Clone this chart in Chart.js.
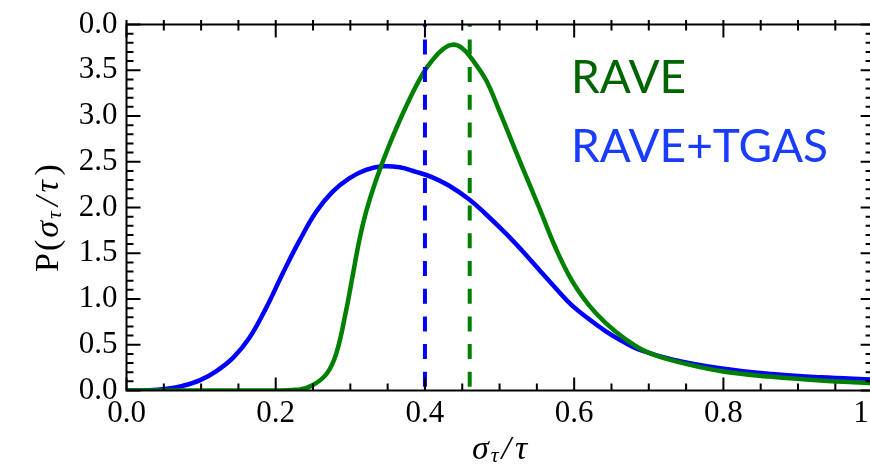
<!DOCTYPE html>
<html>
<head>
<meta charset="utf-8">
<script src="https://cdn.jsdelivr.net/npm/chart.js@4.4.0/dist/chart.umd.min.js"></script>
<style>
  html, body { margin: 0; padding: 0; background: #fff; overflow: hidden; }
  #wrap { position: relative; width: 900px; height: 465px; }
</style>
</head>
<body>
<div id="wrap"><canvas id="chart" width="900" height="465"></canvas></div>
<script>
// RAVE+TGAS distribution (blue)
const tgasX = [0.00, 0.03, 0.054, 0.075, 0.098, 0.12, 0.143, 0.165, 0.187, 0.21, 0.232, 0.254, 0.276,
  0.299, 0.321, 0.343, 0.366, 0.388, 0.41, 0.432, 0.459, 0.48, 0.508, 0.53, 0.553, 0.575, 0.597,
  0.62, 0.642, 0.664, 0.686, 0.731, 0.798, 0.865, 0.93, 1.00];
const tgasY = [0.00, 0.003, 0.02, 0.05, 0.11, 0.21, 0.36, 0.58, 0.90, 1.29, 1.64, 1.95, 2.17,
  2.32, 2.41, 2.45, 2.44, 2.39, 2.33, 2.24, 2.09, 1.94, 1.72, 1.53, 1.32, 1.12, 0.93,
  0.78, 0.65, 0.54, 0.45, 0.34, 0.24, 0.18, 0.145, 0.12];

// RAVE distribution (green)
const raveX = [0.00, 0.20, 0.232, 0.25, 0.268, 0.281, 0.294, 0.303, 0.312, 0.321, 0.334, 0.352, 0.375,
  0.397, 0.41, 0.424, 0.437, 0.45, 0.464, 0.482, 0.499, 0.517, 0.53, 0.553, 0.575, 0.597, 0.62,
  0.642, 0.669, 0.695, 0.731, 0.798, 0.865, 0.93, 1.00];
const raveY = [0.00, 0.00, 0.01, 0.06, 0.18, 0.40, 0.86, 1.25, 1.64, 1.95, 2.29, 2.68, 3.11,
  3.46, 3.61, 3.73, 3.78, 3.74, 3.61, 3.39, 3.07, 2.71, 2.45, 2.00, 1.56, 1.20, 0.93,
  0.74, 0.56, 0.43, 0.33, 0.21, 0.15, 0.11, 0.08];

// dashed markers
const tgasMedian = 0.40;
const raveMedian = 0.46;

const xMin = 0, xMax = 1, yMin = 0, yMax = 4;

const GREEN = '#008000';
const BLUE = '#0000ff';
const serif = '"Liberation Serif", "DejaVu Serif", serif';

const toPoints = (xs, ys) => xs.map((x, i) => ({ x, y: ys[i] }));

// inward tick marks and frame
const framePlugin = {
  id: 'frame',
  afterDatasetsDraw(chart) {
    const { ctx, chartArea: a, scales: { x, y } } = chart;
    ctx.save();
    ctx.strokeStyle = '#000';
    ctx.lineWidth = 2;
    ctx.strokeRect(a.left, a.top, a.right - a.left, a.bottom - a.top);
    ctx.beginPath();
    for (let i = 0; i <= 20; i++) {
      const px = x.getPixelForValue(i * 0.05);
      const major = i % 4 === 0;
      ctx.moveTo(px, a.bottom);
      ctx.lineTo(px, a.bottom - (major ? 13 : 7));
      ctx.moveTo(px, a.top - 4.5);
      ctx.lineTo(px, a.top + (major ? 13 : 6));
    }
    for (let i = 0; i <= 40; i++) {
      const py = y.getPixelForValue(i * 0.1);
      const major = i % 5 === 0;
      ctx.moveTo(a.left, py);
      ctx.lineTo(a.left + (major ? 14 : 7), py);
      ctx.moveTo(a.right, py);
      ctx.lineTo(a.right - (major ? 12 : 7), py);
    }
    ctx.stroke();
    ctx.restore();
  },
  afterDraw(chart) {
    const { ctx, chartArea: a } = chart;
    const size = 34;
    const it = `italic ${size}px ${serif}`;
    const sub = `italic ${Math.round(size * 0.66)}px ${serif}`;
    const up = `${size}px ${serif}`;

    ctx.save();
    ctx.fillStyle = '#000';
    drawRich(ctx, [
      { t: 'σ', f: it, dy: 0, gap: 2 },
      { t: 'τ', f: sub, dy: 3, gap: 3 },
      { t: '/', f: it, dy: 0, gap: 4 },
      { t: 'τ', f: it, dy: 0, gap: 0 },
    ], (a.left + a.right) / 2, 459);

    ctx.translate(58, 218);
    ctx.rotate(-Math.PI / 2);
    drawRich(ctx, [
      { t: 'P', f: up, dy: 0, gap: 2 },
      { t: '(', f: up, dy: 0, gap: 2 },
      { t: 'σ', f: it, dy: 0, gap: 2 },
      { t: 'τ', f: sub, dy: 3, gap: 5 },
      { t: '/', f: it, dy: 0, gap: 4 },
      { t: 'τ', f: it, dy: 0, gap: 5 },
      { t: ')', f: up, dy: 0, gap: 0 },
    ], 0, 0);
    ctx.restore();

    ctx.save();
    ctx.font = '46px Lato, "Open Sans", sans-serif';
    ctx.textBaseline = 'alphabetic';
    ctx.fillStyle = '#006400';
    ctx.fillText('RAVE', 571, 93);
    ctx.fillStyle = '#1a3cff';
    ctx.fillText('RAVE+TGAS', 571, 162);
    ctx.restore();
  },
};

function drawRich(ctx, parts, cx, baseline) {
  let total = 0;
  parts.forEach((p) => { ctx.font = p.f; total += ctx.measureText(p.t).width + p.gap; });
  let px = cx - total / 2;
  ctx.textBaseline = 'alphabetic';
  parts.forEach((p) => {
    ctx.font = p.f;
    ctx.fillText(p.t, px, baseline + p.dy);
    px += ctx.measureText(p.t).width + p.gap;
  });
}

new Chart(document.getElementById('chart'), {
  type: 'line',
  data: {
    datasets: [
      {
        label: 'RAVE median',
        data: [{ x: raveMedian, y: yMin }, { x: raveMedian, y: yMax }],
        borderColor: GREEN,
        borderWidth: 4,
        borderDash: [15, 12.7],
        borderDashOffset: 24,
        pointRadius: 0,
        order: 0,
      },
      {
        label: 'RAVE+TGAS median',
        data: [{ x: tgasMedian, y: yMin }, { x: tgasMedian, y: yMax }],
        borderColor: BLUE,
        borderWidth: 4,
        borderDash: [15, 12.7],
        borderDashOffset: 24,
        pointRadius: 0,
        order: 1,
      },
      {
        label: 'RAVE',
        data: toPoints(raveX, raveY),
        borderColor: GREEN,
        borderWidth: 4.5,
        tension: 0.4,
        pointRadius: 0,
        order: 2,
      },
      {
        label: 'RAVE+TGAS',
        data: toPoints(tgasX, tgasY),
        borderColor: BLUE,
        borderWidth: 4.5,
        tension: 0.4,
        pointRadius: 0,
        order: 3,
      },
    ],
  },
  options: {
    responsive: false,
    animation: false,
    events: [],
    layout: { padding: { top: 17, right: 25.5, bottom: 0, left: 0 } },
    plugins: { legend: { display: false }, tooltip: { enabled: false } },
    scales: {
      x: {
        type: 'linear',
        min: xMin,
        max: xMax,
        grid: { display: false, drawTicks: false },
        border: { display: false },
        ticks: {
          stepSize: 0.2,
          padding: 8,
          color: '#000',
          font: { family: serif, size: 31, lineHeight: 1 },
          maxRotation: 0,
          callback: (v) => v.toFixed(1),
        },
        afterFit: (scale) => { scale.height = 74.5; },
      },
      y: {
        type: 'linear',
        min: yMin,
        max: yMax,
        grid: { display: false, drawTicks: false },
        border: { display: false },
        ticks: {
          stepSize: 0.5,
          padding: 9,
          color: '#000',
          font: { family: serif, size: 31, lineHeight: 1 },
          // the top label is overprinted by the neighbouring panel's "0.0"
          callback: (v) => (v === yMax ? '0.0' : v.toFixed(1)),
        },
        afterFit: (scale) => { scale.width = 126.5; },
      },
    },
  },
  plugins: [framePlugin],
});
</script>
</body>
</html>
